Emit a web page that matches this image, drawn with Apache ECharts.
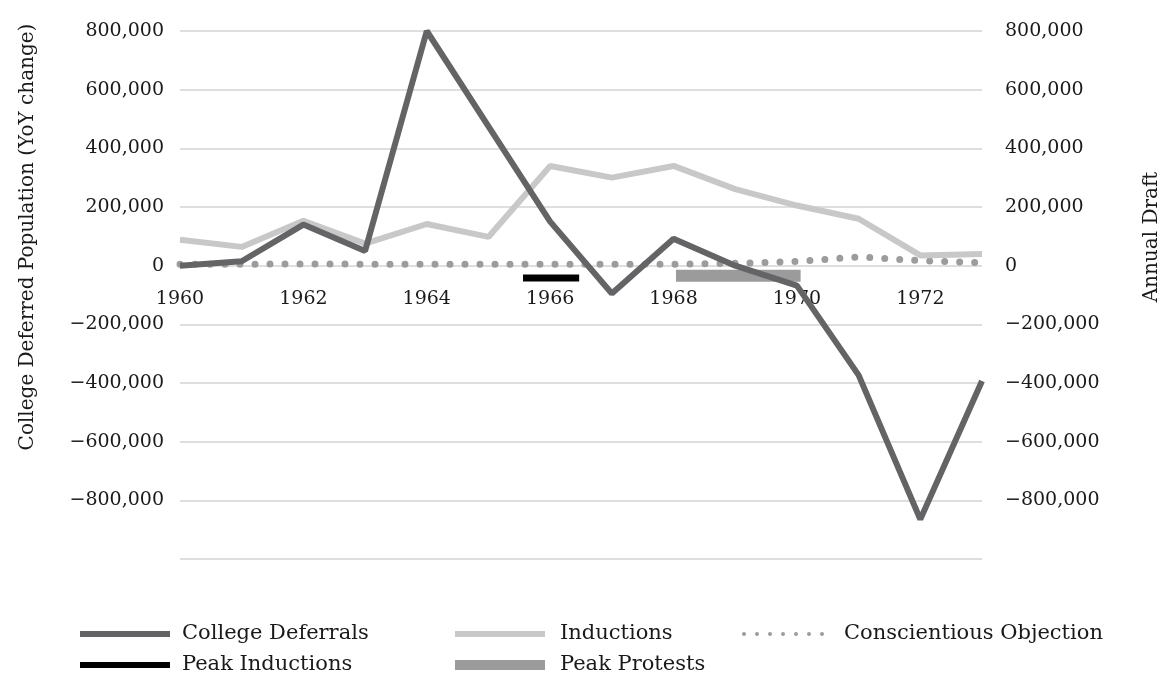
<!DOCTYPE html>
<html>
<head>
<meta charset="utf-8">
<script src="https://cdn.jsdelivr.net/npm/echarts@6/dist/echarts.min.js"></script>
<style>
  html, body { margin: 0; padding: 0; background: #fff; }
  #chart { width: 1172px; height: 679px; }
</style>
</head>
<body>
<div id="chart"></div>
<script>
// years on the x axis
const years = [1960, 1961, 1962, 1963, 1964, 1965, 1966, 1967, 1968, 1969, 1970, 1971, 1972, 1973]

// YoY change in college deferred population
const collegeDeferrals = [0, 15000, 140000, 50000, 800000, 475000, 150000, -95000, 92000, 0, -68000, -373000, -865000, -393000]
// annual draft inductions
const inductions = [88000, 64000, 153000, 75000, 142000, 98000, 340000, 300000, 340000, 261000, 205000, 160000, 35000, 40000]
// conscientious objection
const conscientiousObjection = [5000, 5000, 6000, 5000, 5000, 5000, 5000, 5000, 5000, 8000, 14000, 30000, 17000, 10000]

// highlighted periods [start, end] and level they are drawn at
const peakInductionsSpan = [1965.56, 1966.47]
const peakInductionsLevel = -42000
const peakProtestsSpan = [1968.04, 1970.06]
const peakProtestsLevel = -34000

const yTicks = { min: -1000000, max: 800000, step: 200000 }

const FONT = 'DejaVu Serif'
const pair = (xs, ys) => xs.map((x, i) => [x, ys[i]])

const fmtNum = v => {
  if (v === yTicks.min) return ''
  const s = Math.abs(v).toLocaleString('en-US')
  return v < 0 ? '\u2212' + s : s
}

const chart = echarts.init(document.getElementById('chart'))

const legendItem = (name, left, top, icon, h, gap) => ({
  data: [name],
  left, top,
  icon,
  itemWidth: 90,
  itemHeight: h,
  textStyle: { fontFamily: FONT, fontSize: 21, color: '#1a1a1a', lineHeight: 22, padding: [0, 0, 0, gap] },
})

const yAxisBase = {
  type: 'value',
  min: yTicks.min,
  max: yTicks.max,
  interval: yTicks.step,
  nameLocation: 'middle',
  axisLine: { show: false },
  axisTick: { show: false },
  nameTextStyle: { color: '#1a1a1a', fontFamily: FONT, fontSize: 20, padding: [0, 0, 0, 116] },
}
const yLabel = margin => ({ formatter: fmtNum, color: '#1a1a1a', fontFamily: FONT, fontSize: 19, margin })

const coLegend = legendItem('Conscientious Objection', 737, 618, 'inherit', 14, 12)
coLegend.itemWidth = 83
coLegend.itemStyle = { opacity: 0 }
coLegend.lineStyle = { width: 4, type: [0, 13], cap: 'round' }

const option = {
  animation: false,
  backgroundColor: '#fff',
  grid: { left: 180, right: 190, top: 31, bottom: 120 },
  legend: [
    legendItem('College Deferrals', 75, 618, 'rect', 6, 7),
    legendItem('Peak Inductions', 75, 649, 'rect', 6, 7),
    legendItem('Inductions', 450, 618, 'rect', 6, 10),
    legendItem('Peak Protests', 450, 649, 'rect', 10, 10),
    coLegend,
  ],
  xAxis: {
    type: 'value',
    min: 1960,
    max: 1973,
    interval: 2,
    // year labels sit just under the zero line
    offset: -292,
    splitLine: { show: false },
    axisTick: { show: false },
    axisLine: { show: false, onZero: false },
    axisLabel: {
      color: '#1a1a1a', fontFamily: FONT, fontSize: 19, margin: 23,
      formatter: v => (v % 2 === 0 ? String(v) : ''),
    },
  },
  yAxis: [
    Object.assign({}, yAxisBase, {
      name: 'College Deferred Population (YoY change)',
      nameGap: 142,
      axisLabel: yLabel(16),
      splitLine: { show: true, lineStyle: { color: '#dedede', width: 2 } },
    }),
    Object.assign({}, yAxisBase, {
      name: 'Annual Draft',
      position: 'right',
      nameGap: 160,
      axisLabel: yLabel(23),
      splitLine: { show: false },
    }),
  ],
  series: [
    {
      name: 'Conscientious Objection',
      type: 'line',
      yAxisIndex: 1,
      data: pair(years, conscientiousObjection),
      showSymbol: false,
      symbol: 'none',
      color: '#9c9c9c',
      lineStyle: { color: '#9c9c9c', width: 7, type: [0, 15], cap: 'round' },
      z: 2,
    },
    {
      name: 'Inductions',
      type: 'line',
      yAxisIndex: 1,
      data: pair(years, inductions),
      showSymbol: false,
      symbol: 'none',
      color: '#c8c8c8',
      lineStyle: { color: '#c8c8c8', width: 6 },
      z: 3,
    },
    {
      name: 'College Deferrals',
      type: 'line',
      data: pair(years, collegeDeferrals),
      showSymbol: false,
      symbol: 'none',
      color: '#646467',
      lineStyle: { color: '#646467', width: 6 },
      z: 4,
    },
    {
      name: 'Peak Inductions',
      type: 'line',
      data: peakInductionsSpan.map(x => [x, peakInductionsLevel]),
      showSymbol: false,
      symbol: 'none',
      color: '#000',
      lineStyle: { color: '#000', width: 7 },
      z: 5,
    },
    {
      name: 'Peak Protests',
      type: 'line',
      data: peakProtestsSpan.map(x => [x, peakProtestsLevel]),
      showSymbol: false,
      symbol: 'none',
      color: '#9b9b9b',
      lineStyle: { color: '#9b9b9b', width: 12 },
      z: 3,
    },
  ],
}

chart.setOption(option)
</script>
</body>
</html>
